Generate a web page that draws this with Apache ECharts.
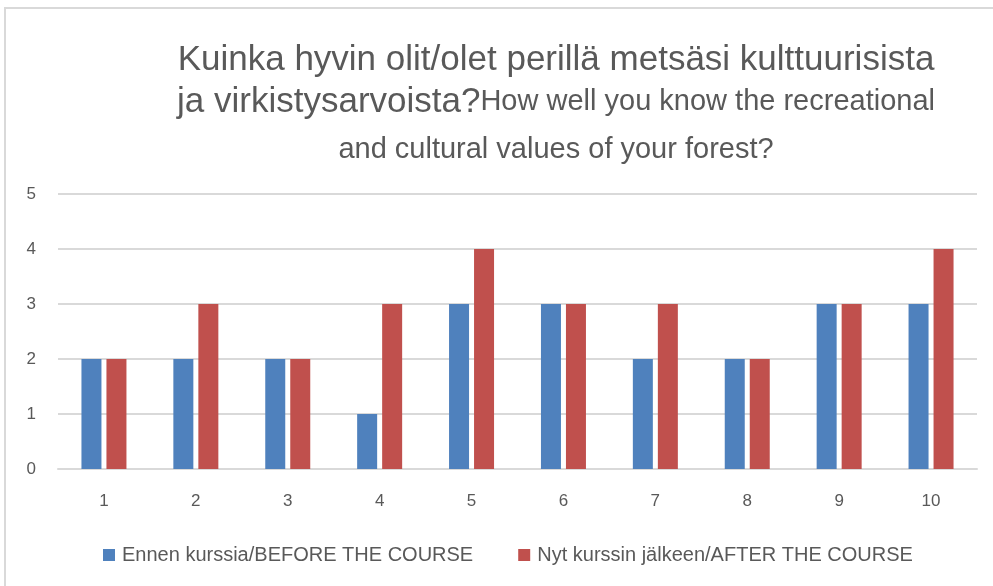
<!DOCTYPE html>
<html><head><meta charset="utf-8">
<script src="https://cdn.jsdelivr.net/npm/echarts@6/dist/echarts.min.js"></script>
<style>html,body{margin:0;padding:0;background:#fff}#c{width:993px;height:586px}</style>
</head><body><div id="c"></div>
<script>
const categories = ['1','2','3','4','5','6','7','8','9','10'];
const beforeValues = [2,2,2,1,3,3,2,2,3,3];
const afterValues = [2,3,2,3,4,3,3,2,3,4];
const seriesNames = ['Ennen kurssia/BEFORE THE COURSE','Nyt kurssin jälkeen/AFTER THE COURSE'];
const titleLine1 = 'Kuinka hyvin olit/olet perillä metsäsi kulttuurisista';
const titleLine2a = 'ja virkistysarvoista?';
const titleLine2b = 'How well you know the recreational';
const titleLine3 = 'and cultural values of your forest?';
const FONT = '"Liberation Sans", Arial, sans-serif';
const chart = echarts.init(document.getElementById('c'));
chart.setOption({
  animation:false,
  textStyle:{fontFamily:FONT},
  graphic:[{type:'rect',shape:{x:5,y:8,width:1000,height:600},style:{fill:'none',stroke:'#d9d9d9',lineWidth:2},silent:true}],
  title:{
    left:556, top:42, textAlign:'center', padding:0,
    text:'{a|'+titleLine1+'}\n{a|'+titleLine2a+'}{b|'+titleLine2b+'}\n{b|'+titleLine3+'}',
    textStyle:{fontWeight:'normal',rich:{
      a:{fontFamily:FONT,fontSize:35,fontWeight:'normal',color:'#595959',lineHeight:36},
      b:{fontFamily:FONT,fontSize:29,fontWeight:'normal',color:'#595959',lineHeight:48}
    }}
  },
  legend:{
    top:545, left:103, padding:0, itemWidth:12, itemHeight:12, itemGap:45,
    icon:'rect',
    textStyle:{fontFamily:FONT,fontSize:20,color:'#595959',padding:[0,0,0,2]},
    data:seriesNames
  },
  grid:{left:58,right:16,top:194,bottom:117},
  xAxis:{type:'category',data:categories,
    axisLine:{lineStyle:{color:'#d9d9d9',width:2}},axisTick:{show:false},
    axisLabel:{color:'#595959',fontSize:17,margin:24,fontFamily:FONT}},
  yAxis:{type:'value',min:0,max:5,interval:1,
    axisLine:{show:false},axisTick:{show:false},
    splitLine:{lineStyle:{color:'#d9d9d9',width:2}},
    axisLabel:{color:'#595959',fontSize:17,margin:22,fontFamily:FONT}},
  series:[
    {name:seriesNames[0],type:'bar',data:beforeValues,barWidth:20,barGap:'25%',itemStyle:{color:'#4F81BD'}},
    {name:seriesNames[1],type:'bar',data:afterValues,barWidth:20,barGap:'25%',itemStyle:{color:'#C0504D'}}
  ]
});
</script></body></html>
